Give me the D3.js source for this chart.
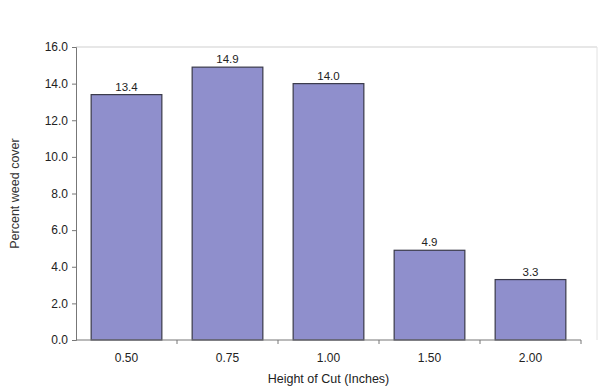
<!DOCTYPE html>
<html><head><meta charset="utf-8">
<script src="https://cdn.jsdelivr.net/npm/d3@7"></script>
<style>body{margin:0;background:#fff}svg{display:block}text{font-family:"Liberation Sans",Arial,sans-serif}</style>
</head><body><svg id="c" width="599" height="387"></svg>
<script>
const categories = ["0.50","0.75","1.00","1.50","2.00"];
const values = [13.4,14.9,14.0,4.9,3.3];
const yTicks = [0,2,4,6,8,10,12,14,16];

const svg = d3.select("#c");
const L=76, R=581, T=47, B=340;
const x = d3.scaleBand().domain(categories).range([L,R]).paddingInner(0.3).paddingOuter(0.15);
const y = d3.scaleLinear().domain([0,16]).range([B,T]);

// frame
svg.append("line").attr("x1",L).attr("x2",597).attr("y1",T).attr("y2",T).attr("stroke","#cfcfcf");
svg.append("line").attr("x1",597).attr("x2",597).attr("y1",T).attr("y2",B).attr("stroke","#e2e2e2");

svg.selectAll("rect.bar").data(values).join("rect").attr("class","bar")
  .attr("x",(d,i)=>x(categories[i])).attr("width",x.bandwidth())
  .attr("y",d=>y(d)).attr("height",d=>B-y(d))
  .attr("fill","#8f8fcc").attr("stroke","#3a3a4a").attr("stroke-width",1.2);

svg.selectAll("text.val").data(values).join("text").attr("class","val")
  .attr("x",(d,i)=>x(categories[i])+x.bandwidth()/2).attr("y",d=>y(d)-4)
  .attr("text-anchor","middle").attr("font-size",11.5).attr("fill","#222")
  .text(d=>d.toFixed(1));

const yAxis = svg.append("g").attr("transform",`translate(${L},0)`)
  .call(d3.axisLeft(y).tickValues(yTicks).tickFormat(d3.format(".1f")).tickSize(4).tickPadding(4));
yAxis.select(".domain").attr("stroke","#777");
yAxis.selectAll(".tick line").attr("stroke","#777");
yAxis.selectAll("text").attr("font-size",12).attr("fill","#222").attr("font-family","Liberation Sans, Arial, sans-serif");

const bandEdges = categories.map(c=>x(c)+x.bandwidth()+x.step()*x.paddingInner()/2);
const xAxis = svg.append("g").attr("transform",`translate(0,${B})`);
xAxis.append("line").attr("x1",L).attr("x2",R).attr("stroke","#777");
xAxis.selectAll("line.t").data(bandEdges).join("line").attr("class","t")
  .attr("x1",d=>d).attr("x2",d=>d).attr("y1",0).attr("y2",4).attr("stroke","#777");
xAxis.selectAll("text").data(categories).join("text")
  .attr("x",d=>x(d)+x.bandwidth()/2).attr("y",22).attr("text-anchor","middle")
  .attr("font-size",12).attr("fill","#222").text(d=>d);

svg.append("text").attr("x",(L+R)/2).attr("y",383).attr("text-anchor","middle")
  .attr("font-size",12.5).attr("fill","#222").text("Height of Cut (Inches)");
svg.append("text").attr("transform",`translate(19,${(T+B)/2}) rotate(-90)`).attr("text-anchor","middle")
  .attr("font-size",12.5).attr("fill","#333").text("Percent weed cover");
</script></body></html>
